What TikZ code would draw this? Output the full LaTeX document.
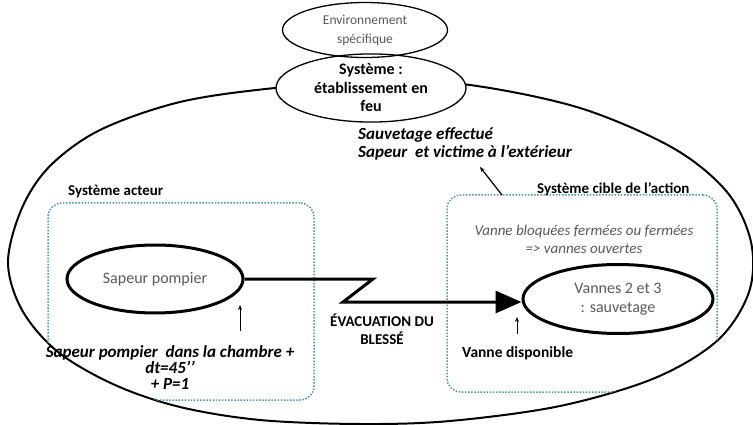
\documentclass[tikz,border=0pt]{standalone}
\usepackage{fontspec}
\setmainfont{Carlito}
\usepackage{xcolor}
\usepackage{tikz}
\usetikzlibrary{shapes.geometric, arrows.meta, positioning}
\definecolor{dotblue}{RGB}{75,150,172}
\definecolor{textgray}{RGB}{89,89,89}
\tikzstyle{context} = [ellipse, draw=black, line width=1.3pt, fill=white, align=center, inner sep=0pt]
\tikzstyle{actor} = [ellipse, draw=black, line width=3pt, text=textgray, align=center, inner sep=0pt, font=\fontsize{16}{19}\selectfont]
\tikzstyle{sysbox} = [rectangle, rounded corners=14pt, draw=dotblue, line width=1.5pt, dash pattern=on 1.5pt off 1.6pt]
\tikzstyle{label} = [font=\fontsize{15}{18}\selectfont\bfseries, inner sep=0pt]
\tikzstyle{flow} = [line width=3pt, -{Triangle[length=26pt,width=22pt]}]
\tikzstyle{pointer} = [line width=0.8pt, -{Stealth[length=5pt,width=4pt]}]
\newcommand{\enveloppe}{plot[smooth cycle, tension=0.55] coordinates {(8,262) (22,208) (50,166) (100,130) (180,102) (275,88) (380,81) (470,85) (580,108) (673,148) (727,192) (751,242) (749,292) (718,340) (655,378) (560,406) (450,421) (360,424) (260,420) (180,407) (115,385) (58,352) (22,310)}}

\begin{document}
\begin{tikzpicture}[x=1pt, y=-1pt, font=\fontsize{14}{18}\selectfont]
    \useasboundingbox (0,0) rectangle (753,425);
    % enveloping system
    \draw [line width=2pt] \enveloppe;
    \begin{scope}
        \clip \enveloppe;
        \node (acteur) [sysbox, minimum width=266pt, minimum height=197pt] at (181,301.5) {};
        \node (cible) [sysbox, minimum width=270pt, minimum height=197pt] at (582,293.5) {};
    \end{scope}
    \node (systeme) [context, minimum width=190pt, minimum height=67pt, font=\fontsize{16}{18.5}\selectfont\bfseries] at (371,88) {Système :\\établissement en\\feu};
    \node (env) [context, fill=none, minimum width=165pt, minimum height=55pt, text=textgray, font=\fontsize{13.5}{19}\selectfont] at (365,30) {Environnement\\spécifique};
    \node (lacteur) [label, anchor=west] at (68,192) {Système acteur};
    \node (lcible) [label, anchor=west] at (537,189) {Système cible de l’action};
    \node (resultat) [label, font=\fontsize{17}{18}\selectfont\bfseries\itshape, align=left, anchor=west] at (358,144) {Sauvetage effectué\\Sapeur\ \ et victime à l’extérieur};
    % actor and target
    \node (sapeur) [actor, minimum width=176pt, minimum height=68pt] at (155,279) {Sapeur pompier};
    \node (vannes) [actor, minimum width=190pt, minimum height=69pt] at (618,299) {Vannes 2 et 3\\: sauvetage};
    \node (etat) [align=center, text=textgray, font=\fontsize{15}{18}\selectfont\itshape, inner sep=0pt] at (584,239) {Vanne bloquées fermées ou fermées\\=> vannes ouvertes};
    \node (dispo) [label, font=\fontsize{15.5}{18}\selectfont\bfseries, anchor=west] at (462,353) {Vanne disponible};
    \node (depart) [label, font=\fontsize{17}{16}\selectfont\bfseries\itshape, align=center] at (170,368) {Sapeur pompier\ \ dans la chambre +\\dt=45’’\\+ P=1};
    \node (evac) [label, align=center] at (382,329) {ÉVACUATION DU\\BLESSÉ};
    % transformation
    \coordinate (z1) at (373,279);
    \coordinate (z2) at (343,302);
    \draw [flow] (sapeur.east) -- (z1) -- (z2) -- (z2 -| vannes.west);
    \coordinate (s0) at (240,331);
    \coordinate (s1) at (240,305);
    \draw [pointer] (s0) -- (s1);
    \coordinate (v0) at (517,334);
    \coordinate (v1) at (517,317);
    \draw [pointer] (v0) -- (v1);
    \coordinate (r0) at (502,195);
    \coordinate (r1) at (480,167);
    \draw [pointer, line width=1.2pt] (r0) -- (r1);
\end{tikzpicture}
\end{document}
